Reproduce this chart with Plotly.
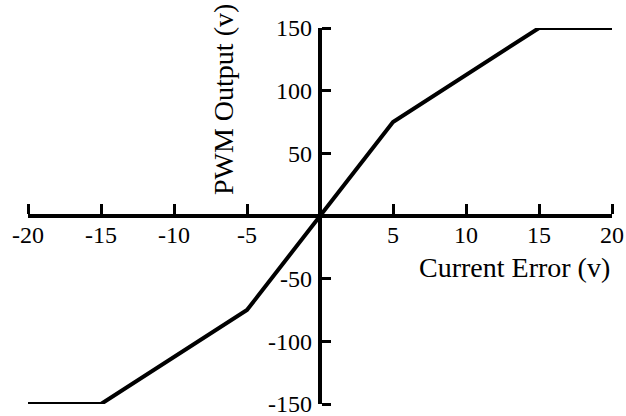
import plotly.graph_objects as go

# Data
x_vals = [-20, -15, -5, 0, 5, 15, 20]
y_vals = [-150, -150, -75, 0, 75, 150, 150]
x_ticks = [-20, -15, -10, -5, 5, 10, 15, 20]
x_tick_labels = ["-20", "-15", "-10", "-5", "5", "10", "15", "20"]
y_ticks = [-150, -100, -50, 50, 100, 150]
y_tick_labels = ["-150", "-100", "-50", "50", "100", "150"]

FONT = "Liberation Serif"
FS_TITLE = 28
FS_TICK = 24

fig = go.Figure()
fig.add_trace(go.Scatter(
    x=x_vals, y=y_vals, mode="lines",
    line=dict(color="black", width=4),
    cliponaxis=False, showlegend=False, hoverinfo="skip",
))
# invisible companion trace so the label axes exist
fig.add_trace(go.Scatter(
    x=x_vals, y=y_vals, mode="lines", xaxis="x2", yaxis="y2",
    line=dict(color="rgba(0,0,0,0)", width=0),
    showlegend=False, hoverinfo="skip",
))

tickfont = dict(family=FONT, size=FS_TICK, color="black")

fig.update_layout(
    width=626, height=416,
    margin=dict(l=28, r=14, t=28, b=12),
    paper_bgcolor="white", plot_bgcolor="white",
    font=dict(family=FONT, size=FS_TITLE, color="black"),
    hovermode=False,
    # axis line + upward ticks
    xaxis=dict(
        range=[-20, 20], anchor="free", position=0.5, side="top",
        automargin=False, showgrid=False, zeroline=False,
        showline=True, linecolor="black", linewidth=4,
        ticks="outside", ticklen=10, tickwidth=3, tickcolor="black",
        tickvals=x_ticks, showticklabels=False,
    ),
    # tick labels below
    xaxis2=dict(
        range=[-20, 20], overlaying="x", anchor="free", position=0.5, side="bottom",
        automargin=False, showgrid=False, zeroline=False, showline=False,
        ticks="", tickvals=x_ticks, ticktext=x_tick_labels,
        tickfont=tickfont, ticklabeloverflow="allow", ticklabelstandoff=2,
    ),
    # axis line + rightward ticks
    yaxis=dict(
        range=[-150, 150], anchor="free", position=0.5, side="right",
        automargin=False, showgrid=False, zeroline=False,
        showline=True, linecolor="black", linewidth=4,
        ticks="outside", ticklen=9, tickwidth=3, tickcolor="black",
        tickvals=y_ticks, showticklabels=False,
    ),
    # tick labels to the left
    yaxis2=dict(
        range=[-150, 150], overlaying="y", anchor="free", position=0.5, side="left",
        automargin=False, showgrid=False, zeroline=False, showline=False,
        ticks="", tickvals=y_ticks, ticktext=y_tick_labels,
        tickfont=tickfont, ticklabeloverflow="allow", ticklabelstandoff=8,
    ),
    annotations=[
        dict(text="PWM Output (v)", xref="paper", yref="paper",
             x=0.336, y=0.809, textangle=-90, showarrow=False,
             xanchor="center", yanchor="middle",
             font=dict(family=FONT, size=FS_TITLE, color="black")),
        dict(text="Current Error (v)", xref="paper", yref="paper",
             x=1.0, y=0.364, showarrow=False,
             xanchor="right", yanchor="middle",
             font=dict(family=FONT, size=FS_TITLE, color="black")),
    ],
)

fig.write_html(
    "out.html",
    config={"displayModeBar": False, "staticPlot": True},
    post_script="document.body.style.margin='0';document.body.style.padding='0';",
)
